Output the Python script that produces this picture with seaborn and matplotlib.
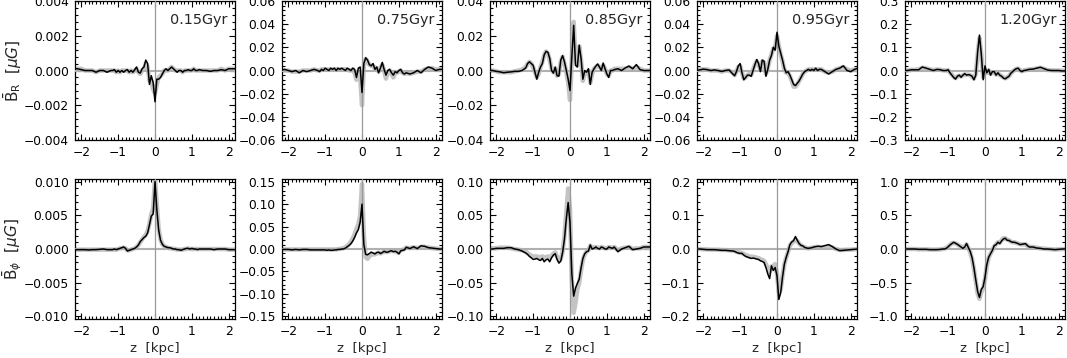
import numpy as np
import matplotlib
matplotlib.use("Agg")
import matplotlib.pyplot as plt
from matplotlib.ticker import MultipleLocator, AutoMinorLocator, FuncFormatter
import seaborn as sns

# z grid [kpc]: 0.1 steps in the wings, 0.05 steps across the disc
z = np.concatenate([np.arange(-2.2, -1.25, 0.1),
                    np.arange(-1.2, 1.21, 0.05),
                    np.arange(1.3, 2.21, 0.1)]).round(2)

times = ["0.15Gyr", "0.75Gyr", "0.85Gyr", "0.95Gyr", "1.20Gyr"]

# mean B_R profiles, black = this run, gray = comparison run
br_015 = [0.0001, 0.0001, 0.00005, 0.0, 0.0, 0.0, -0.0001, 0.0, 0.0, -0.0001,
          0.0, 0.0, 0.00005, -0.0001, 0.0, -0.0001, 0.0, -0.0001, 0.0, 0.00005,
          -0.0001, 0.0, -0.0001, 0.00005, 0.0002, -0.0001, -0.00015, 0.0001, 0.0002, 0.0006,
          0.0004, -0.0008, -0.0003, -0.0007, -0.0018, -0.0005, -0.0005, -0.0004, -0.0002,
          0.0, 0.0001, 0.0, 0.0001, 0.0002, 0.0001, 0.0, -0.0001, 0.0, 0.0,
          -0.0001, 0.0, 0.0, 0.00005, 0.0, 0.0, 0.0001, 0.0, 0.0, 0.00005,
          0.0, 0.0, -0.00005, 0.0, 0.0, 0.00005, 0.0, 0.0001, 0.0001, 0.0001]
br_015_alt = [0.0001, 0.0001, 0.0001, 0.0, 0.0, 0.0, -0.0001, 0.0, 0.0, 0.0,
              0.0, 0.0, 0.0, -0.0001, 0.0, -0.0001, 0.0, 0.0, 0.0, 0.0,
              -0.0001, 0.0, -0.0001, 0.0, 0.0001, -0.0001, -0.0002, 0.0, 0.0001, 0.0004,
              0.0002, -0.0006, -0.0006, -0.0011, -0.0013, -0.0008, -0.0004, -0.0003, -0.0002,
              0.0, 0.0, 0.0, 0.0001, 0.0002, 0.0001, 0.0, 0.0, 0.0, 0.0,
              -0.0001, 0.0, 0.0, 0.0, 0.0, 0.0, 0.0001, 0.0, 0.0, 0.0,
              0.0, 0.0, 0.0, 0.0, 0.0, 0.0001, 0.0, 0.0001, 0.0001, 0.0001]

br_075 = [0.0, 0.001, 0.0, -0.001, 0.0, -0.002, 0.0, -0.001, 0.0, 0.001,
          0.0, -0.001, 0.001, 0.0, 0.002, 0.001, 0.0, 0.002, 0.001, 0.002,
          0.0, 0.002, 0.001, 0.002, 0.001, 0.0, 0.002, 0.001, 0.0, 0.002,
          0.001, -0.006, 0.002, 0.003, -0.019, 0.006, 0.011, 0.009, 0.005,
          0.004, 0.006, 0.001, 0.003, -0.002, 0.002, 0.007, 0.001, -0.004, 0.0,
          0.001, -0.002, -0.004, -0.001, -0.002, 0.0, 0.001, -0.002, -0.003, -0.002,
          -0.003, -0.002, 0.0, -0.002, 0.001, 0.003, 0.002, 0.0, 0.001, 0.001]
br_075_alt = [0.0, 0.0, 0.0, -0.001, -0.001, -0.001, 0.0, 0.0, 0.0, 0.001,
              0.0, 0.0, 0.001, 0.001, 0.001, 0.001, 0.001, 0.001, 0.001, 0.001,
              0.001, 0.001, 0.001, 0.001, 0.001, 0.001, 0.001, 0.0, 0.0, 0.001,
              -0.002, -0.008, -0.002, -0.006, -0.030, 0.004, 0.010, 0.008, 0.005,
              0.004, 0.004, 0.002, 0.002, -0.001, 0.002, 0.005, 0.0, -0.007, -0.002,
              0.0, -0.003, -0.006, -0.002, -0.002, -0.001, 0.0, -0.002, -0.003, -0.002,
              -0.003, -0.002, -0.001, -0.001, 0.001, 0.002, 0.002, 0.001, 0.001, 0.001]

br_085 = [0.0, 0.0, -0.0005, -0.0008, -0.0013, -0.001, -0.0008, -0.0005, -0.0005, 0.0,
          0.0015, 0.004, 0.005, 0.004, 0.003, -0.001, -0.005, -0.001, 0.002, 0.004,
          0.009, 0.011, 0.0105, 0.007, 0.0, -0.0015, 0.002, -0.003, -0.0032, 0.006,
          0.0085, 0.005, 0.0, -0.005, -0.0115, 0.008, 0.026, 0.003, 0.002,
          0.0145, 0.007, -0.005, 0.0, -0.001, 0.001, -0.008, -0.001, 0.001, 0.0025,
          0.0037, 0.002, 0.0, 0.0043, 0.001, -0.002, -0.004, 0.0, 0.0, 0.0005,
          0.001, 0.0, 0.0015, 0.0025, 0.001, 0.0034, 0.0005, 0.0, 0.0, 0.0]
br_085_alt = [0.0, 0.0, -0.0005, -0.001, -0.001, -0.001, -0.001, -0.0005, 0.0, 0.0005,
              0.002, 0.004, 0.005, 0.004, 0.002, -0.001, -0.004, -0.002, 0.002, 0.005,
              0.009, 0.011, 0.010, 0.006, 0.001, -0.001, 0.001, -0.003, -0.002, 0.005,
              0.008, 0.004, -0.001, -0.007, -0.017, 0.006, 0.028, 0.006, 0.003,
              0.014, 0.006, -0.006, -0.001, -0.002, 0.0, -0.007, -0.002, 0.001, 0.002,
              0.003, 0.002, 0.001, 0.003, 0.001, -0.002, -0.003, 0.0, 0.0, 0.001,
              0.001, 0.001, 0.001, 0.002, 0.001, 0.002, 0.001, 0.0, 0.0, 0.0]

br_095 = [0.0, 0.0005, 0.0012, 0.0008, 0.0, 0.0005, 0.0, -0.0008, 0.0, 0.0005,
          -0.003, -0.0045, -0.001, 0.004, 0.006, -0.002, -0.008, -0.006, -0.004, -0.004,
          -0.005, 0.0, 0.005, 0.0095, 0.006, -0.001, 0.009, 0.008, -0.005, 0.001,
          0.009, 0.013, 0.02, 0.0175, 0.033, 0.021, 0.015, 0.009, 0.002,
          -0.002, -0.001, -0.004, -0.008, -0.012, -0.013, -0.011, -0.009, -0.006, -0.003,
          -0.001, 0.0, 0.001, 0.0, 0.001, 0.0, 0.002, 0.0, 0.001, 0.001,
          -0.001, -0.003, -0.001, 0.001, 0.002, 0.004, 0.0, -0.001, 0.001, 0.002]
br_095_alt = [0.0, 0.001, 0.001, 0.001, 0.0, 0.0, 0.0, -0.001, 0.0, 0.0,
              -0.002, -0.004, -0.001, 0.003, 0.004, -0.002, -0.007, -0.006, -0.004, -0.003,
              -0.004, 0.001, 0.005, 0.008, 0.005, 0.001, 0.008, 0.007, -0.003, 0.002,
              0.009, 0.014, 0.019, 0.02, 0.030, 0.021, 0.014, 0.008, 0.001,
              -0.002, -0.002, -0.005, -0.009, -0.014, -0.014, -0.012, -0.009, -0.006, -0.003,
              -0.001, 0.0, 0.001, 0.001, 0.001, 0.001, 0.001, 0.001, 0.001, 0.001,
              -0.001, -0.002, -0.001, 0.001, 0.002, 0.003, 0.001, 0.0, 0.001, 0.001]

br_120 = [0.0, 0.0, 0.003, 0.003, 0.003, 0.015, 0.01, 0.005, 0.0, 0.005,
          0.003, 0.0, 0.0, 0.0, 0.003, -0.01, -0.02, -0.03, -0.037, -0.025,
          -0.02, -0.029, -0.02, -0.014, -0.02, -0.018, -0.02, -0.025, -0.04, -0.02,
          0.08, 0.153, 0.07, -0.04, 0.02, -0.01, 0.005, -0.02, -0.005,
          -0.005, -0.02, -0.01, -0.02, -0.025, -0.033, -0.036, -0.03, -0.025, -0.012,
          -0.005, 0.003, 0.008, 0.01, 0.0, -0.005, 0.0, 0.001, 0.003, 0.005,
          0.006, 0.01, 0.014, 0.008, 0.002, 0.0, 0.0, 0.0, -0.002, -0.002]
br_120_alt = [0.0, 0.0, 0.003, 0.003, 0.005, 0.012, 0.01, 0.005, 0.002, 0.004,
              0.003, 0.001, 0.0, 0.0, 0.002, -0.008, -0.018, -0.027, -0.033, -0.026,
              -0.022, -0.026, -0.021, -0.016, -0.018, -0.018, -0.02, -0.028, -0.035, -0.015,
              0.07, 0.14, 0.07, -0.03, 0.0, -0.01, 0.0, -0.015, -0.008,
              -0.008, -0.018, -0.012, -0.02, -0.024, -0.03, -0.034, -0.03, -0.024, -0.013,
              -0.005, 0.002, 0.007, 0.008, 0.001, -0.003, 0.0, 0.002, 0.003, 0.005,
              0.006, 0.009, 0.012, 0.007, 0.002, 0.001, 0.0, 0.0, -0.001, -0.002]

# mean B_phi profiles
bp_015 = [-0.0001, -0.0001, -0.0001, -0.0001, -0.00015, -0.0001, -0.0001, -0.00005, 0.0, -0.0001,
          -0.0001, -0.0001, 0.0, -0.0001, 0.0, 0.0001, 0.0002, 0.0003, 0.0001, -0.0003,
          -0.0002, -0.0001, 0.0, 0.0001, 0.0003, 0.0006, 0.0011, 0.0014, 0.0017, 0.0019,
          0.0024, 0.0036, 0.0049, 0.0052, 0.0100, 0.0058, 0.0028, 0.0013, 0.0007,
          0.0004, 0.0003, 0.0002, 0.0002, 0.0001, 0.0, 0.0, -0.0001, -0.0001, -0.0002,
          -0.0001, 0.0, 0.0001, 0.0001, 0.0, 0.0001, 0.0, 0.0, -0.0001, 0.0,
          0.0, 0.0, 0.0, -0.0001, 0.0, 0.0, 0.0, -0.0001, -0.0001, -0.0001]
bp_015_alt = [-0.0001, -0.0001, -0.0001, -0.0001, -0.0001, -0.0001, -0.0001, -0.0001, -0.0001, -0.0001,
              -0.0001, -0.0001, -0.0001, -0.0001, 0.0, 0.0001, 0.0001, 0.0002, 0.0001, -0.0002,
              -0.0002, -0.0001, 0.0, 0.0001, 0.0003, 0.0006, 0.0010, 0.0014, 0.0018, 0.0021,
              0.0027, 0.0038, 0.0052, 0.0060, 0.0106, 0.0065, 0.0030, 0.0014, 0.0007,
              0.0004, 0.0003, 0.0002, 0.0001, 0.0001, 0.0, 0.0, -0.0001, -0.0001, -0.0001,
              -0.0001, 0.0, 0.0, 0.0001, 0.0, 0.0, 0.0, 0.0, 0.0, 0.0,
              0.0, 0.0, 0.0, 0.0, 0.0, 0.0, 0.0, -0.0001, -0.0001, -0.0001]

bp_075 = [-0.001, -0.001, -0.001, -0.002, -0.001, -0.002, -0.001, -0.001, -0.002, -0.002,
          -0.002, -0.002, -0.002, -0.002, -0.002, -0.003, -0.002, -0.003, -0.003, -0.002,
          -0.002, -0.001, -0.001, 0.0, 0.0, 0.002, 0.005, 0.008, 0.012, 0.018,
          0.026, 0.036, 0.043, 0.06, 0.1, 0.01, -0.012, -0.013, -0.01,
          -0.007, -0.009, -0.011, -0.008, -0.007, -0.01, -0.008, -0.005, -0.007, -0.007,
          -0.005, -0.004, -0.006, -0.005, -0.007, -0.011, -0.004, -0.003, -0.002, 0.004,
          0.001, 0.005, 0.001, 0.007, 0.006, 0.003, 0.002, 0.001, 0.0, 0.0]
bp_075_alt = [-0.001, -0.001, -0.001, -0.001, -0.001, -0.001, -0.001, -0.001, -0.001, -0.001,
              -0.001, -0.001, -0.001, -0.001, -0.001, -0.001, -0.001, -0.001, -0.001, -0.001,
              -0.001, 0.0, 0.0, 0.001, 0.002, 0.004, 0.007, 0.011, 0.016, 0.024,
              0.033, 0.045, 0.055, 0.075, 0.145, 0.03, -0.018, -0.022, -0.016,
              -0.012, -0.012, -0.012, -0.010, -0.008, -0.01, -0.008, -0.006, -0.007, -0.006,
              -0.005, -0.004, -0.005, -0.005, -0.007, -0.008, -0.003, -0.002, 0.0, 0.003,
              0.002, 0.004, 0.002, 0.005, 0.005, 0.003, 0.002, 0.001, 0.0, 0.0]

bp_085 = [0.0, 0.0, 0.001, 0.001, 0.001, 0.002, 0.002, 0.0, -0.001, -0.003,
          -0.006, -0.008, -0.011, -0.013, -0.0155, -0.015, -0.014, -0.016, -0.017, -0.014,
          -0.019, -0.016, -0.015, -0.019, -0.013, -0.009, -0.007, -0.0155, -0.021, -0.018,
          -0.005, 0.015, 0.045, 0.069, 0.039, -0.037, -0.07, -0.058, -0.051,
          -0.045, -0.028, -0.014, -0.007, -0.004, -0.003, 0.006, 0.0, 0.001, 0.003,
          0.001, 0.0, 0.003, 0.002, 0.0, 0.0, 0.003, 0.002, 0.001, 0.003,
          -0.004, 0.0, 0.002, 0.004, -0.001, 0.0, 0.001, 0.003, 0.003, 0.003]
bp_085_alt = [0.001, 0.001, 0.001, 0.002, 0.002, 0.002, 0.001, 0.0, -0.001, -0.002,
              -0.004, -0.006, -0.008, -0.010, -0.011, -0.011, -0.011, -0.012, -0.012, -0.011,
              -0.013, -0.012, -0.011, -0.013, -0.010, -0.007, -0.005, -0.012, -0.017, -0.015,
              -0.004, 0.02, 0.055, 0.09, 0.06, -0.045, -0.095, -0.08, -0.06,
              -0.05, -0.032, -0.016, -0.008, -0.004, -0.002, 0.005, 0.002, 0.002, 0.003,
              0.002, 0.001, 0.003, 0.002, 0.001, 0.001, 0.003, 0.002, 0.002, 0.003,
              -0.002, 0.001, 0.002, 0.003, 0.0, 0.001, 0.001, 0.003, 0.003, 0.003]

bp_095 = [0.0, 0.0, -0.001, -0.002, -0.002, -0.002, -0.003, -0.004, -0.004, -0.005,
          -0.006, -0.007, -0.01, -0.012, -0.013, -0.013, -0.018, -0.022, -0.024, -0.026,
          -0.028, -0.027, -0.028, -0.03, -0.031, -0.035, -0.037, -0.04, -0.055, -0.074,
          -0.088, -0.05, -0.064, -0.055, -0.08, -0.15, -0.13, -0.083, -0.045,
          -0.025, -0.008, 0.013, 0.021, 0.025, 0.037, 0.026, 0.016, 0.011, 0.009,
          0.005, 0.003, 0.002, 0.003, 0.004, 0.006, 0.007, 0.008, 0.008, 0.007,
          0.01, 0.013, 0.007, 0.0, -0.005, -0.004, -0.003, -0.002, -0.001, 0.0]
bp_095_alt = [0.0, 0.0, -0.001, -0.001, -0.002, -0.002, -0.002, -0.003, -0.003, -0.004,
              -0.005, -0.006, -0.008, -0.010, -0.011, -0.012, -0.015, -0.018, -0.020, -0.022,
              -0.023, -0.023, -0.024, -0.026, -0.027, -0.030, -0.032, -0.035, -0.045, -0.058,
              -0.068, -0.052, -0.05, -0.045, -0.075, -0.13, -0.12, -0.08, -0.045,
              -0.025, -0.008, 0.01, 0.018, 0.022, 0.028, 0.024, 0.016, 0.011, 0.008,
              0.005, 0.003, 0.002, 0.003, 0.004, 0.005, 0.006, 0.006, 0.006, 0.005,
              0.006, 0.008, 0.005, 0.0, -0.003, -0.003, -0.002, -0.002, -0.001, 0.0]

bp_120 = [0.0, 0.0, 0.0, 0.0, -0.005, -0.005, -0.005, -0.01, -0.01, -0.01,
          -0.005, 0.0, 0.0, 0.01, 0.033, 0.06, 0.08, 0.1, 0.085, 0.07,
          0.05, 0.03, 0.01, 0.03, 0.08, 0.02, -0.038, -0.13, -0.28, -0.46,
          -0.63, -0.72, -0.6, -0.56, -0.42, -0.23, -0.12, -0.07, -0.02,
          0.05, 0.065, 0.1, 0.08, 0.12, 0.15, 0.16, 0.13, 0.127, 0.11,
          0.1, 0.1, 0.09, 0.08, 0.065, 0.07, 0.075, 0.08, 0.05, 0.03,
          0.03, 0.015, 0.01, 0.0, 0.0, -0.005, -0.01, -0.005, 0.0, 0.0]
bp_120_alt = [0.0, 0.0, 0.0, 0.0, -0.005, -0.005, -0.005, -0.008, -0.01, -0.008,
              -0.005, 0.0, 0.005, 0.015, 0.035, 0.06, 0.085, 0.09, 0.085, 0.07,
              0.05, 0.035, 0.02, 0.04, 0.07, 0.01, -0.05, -0.15, -0.3, -0.48,
              -0.66, -0.74, -0.64, -0.58, -0.44, -0.25, -0.13, -0.07, -0.02,
              0.04, 0.07, 0.1, 0.09, 0.13, 0.16, 0.16, 0.14, 0.13, 0.11,
              0.1, 0.1, 0.09, 0.08, 0.07, 0.07, 0.07, 0.07, 0.05, 0.03,
              0.03, 0.02, 0.01, 0.005, 0.0, -0.005, -0.008, -0.005, 0.0, 0.0]

br_runs = [(br_015, br_015_alt), (br_075, br_075_alt), (br_085, br_085_alt),
           (br_095, br_095_alt), (br_120, br_120_alt)]
bp_runs = [(bp_015, bp_015_alt), (bp_075, bp_075_alt), (bp_085, bp_085_alt),
           (bp_095, bp_095_alt), (bp_120, bp_120_alt)]

# axis ranges, tick steps and label formats
br_max = [0.004, 0.06, 0.04, 0.06, 0.3]
br_step = [0.002, 0.02, 0.02, 0.02, 0.1]
br_fmt = ["%.3f", "%.2f", "%.2f", "%.2f", "%.1f"]
bp_max = [0.010, 0.15, 0.10, 0.2, 1.0]
bp_step = [0.005, 0.05, 0.05, 0.1, 0.5]
bp_fmt = ["%.3f", "%.2f", "%.2f", "%.1f", "%.1f"]

sns.set_theme(style="ticks")
plt.rcParams["font.family"] = ["DejaVu Sans"]
plt.rcParams["axes.unicode_minus"] = True


def ytick_fmt(fmt):
    def f(v, pos):
        if abs(v) < 1e-12:
            v = 0.0
        return (fmt % v).replace("-", "\u2212")
    return FuncFormatter(f)


def style_axis(ax, ymax, step, fmt, ypad):
    ax.set_xlim(-2.17, 2.17)
    ax.set_ylim(-ymax * ypad, ymax * ypad)
    ax.xaxis.set_major_locator(MultipleLocator(1))
    ax.xaxis.set_minor_locator(MultipleLocator(0.1))
    ax.yaxis.set_major_locator(MultipleLocator(step))
    ax.yaxis.set_minor_locator(AutoMinorLocator(5))
    ax.yaxis.set_major_formatter(ytick_fmt(fmt))
    ax.tick_params(which="both", direction="in", top=True, right=True,
                   labelsize=8.8, colors="black", width=0.8)
    ax.tick_params(which="major", length=4.5)
    ax.tick_params(which="minor", length=2)
    ax.tick_params(axis="y", pad=4.5)
    ax.tick_params(axis="x", pad=4)
    for sp in ax.spines.values():
        sp.set_visible(True)
        sp.set_linewidth(0.9)
        sp.set_color("black")


def draw_panel(ax, black, gray):
    sns.lineplot(x=z, y=gray, ax=ax, color="#c4c4c4", linewidth=3.2,
                 estimator=None, sort=False, zorder=2)
    ax.axhline(0, color="#b0b0b0", lw=1.5, zorder=3)
    ax.axvline(0, color="#9a9a9a", lw=0.9, zorder=3)
    sns.lineplot(x=z, y=black, ax=ax, color="black", linewidth=1.1,
                 estimator=None, sort=False, zorder=4)


fig = plt.figure(figsize=(10.67, 3.58), dpi=100)
W, H = 1067.0, 358.0
lefts = [75, 282, 490, 697, 905]

for i in range(5):
    # top row: B_R
    ax = fig.add_axes([lefts[i] / W, (H - 140) / H, 160 / W, 139 / H])
    draw_panel(ax, *br_runs[i])
    style_axis(ax, br_max[i], br_step[i], br_fmt[i], 1.0)
    ax.text(0.95, 0.865, times[i], transform=ax.transAxes, ha="right",
            va="center", fontsize=10.4)
    ax.set_xlabel("")
    if i == 0:
        ax.set_ylabel(r"$\bar{\rm B}_{\rm R}$  [$\mu G$]", fontsize=11)
        ax.yaxis.set_label_coords(-0.32, 0.5)

    # bottom row: B_phi
    ax = fig.add_axes([lefts[i] / W, (H - 319) / H, 160 / W, 140 / H])
    draw_panel(ax, *bp_runs[i])
    style_axis(ax, bp_max[i], bp_step[i], bp_fmt[i], 1.04)
    ax.set_xlabel("z  [kpc]", fontsize=9.5, labelpad=3)
    if i == 0:
        ax.set_ylabel(r"$\bar{\rm B}_{\phi}$  [$\mu G$]", fontsize=11)
        ax.yaxis.set_label_coords(-0.32, 0.5)

fig.savefig("out.png", dpi=100)
